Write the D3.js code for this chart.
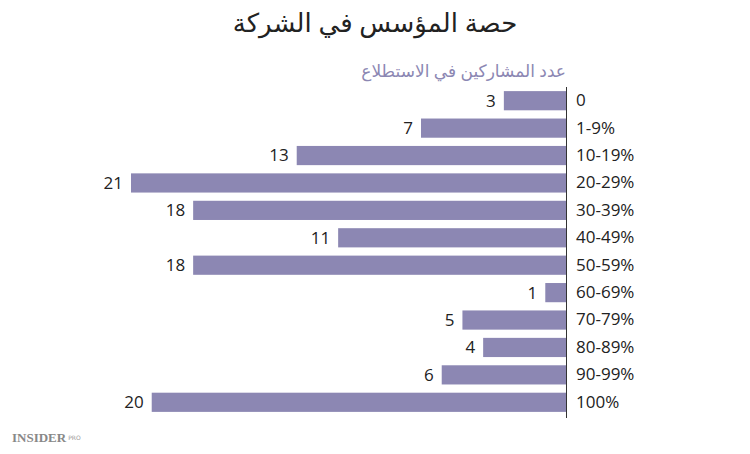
<!DOCTYPE html>
<html><head><meta charset="utf-8">
<script src="https://cdn.jsdelivr.net/npm/d3@7"></script>
<style>body{margin:0;background:#fff}</style>
</head><body>
<script>
const categories = ["0","1-9%","10-19%","20-29%","30-39%","40-49%","50-59%","60-69%","70-79%","80-89%","90-99%","100%"];
const values = [3,7,13,21,18,11,18,1,5,4,6,20];
const title = "حصة المؤسس في الشركة";
const subtitle = "عدد المشاركين في الاستطلاع";

const W = 750, H = 454;
const svg = d3.select("body").append("svg").attr("width", W).attr("height", H);
const font = "'Open Sans','Noto Sans',sans-serif";

const x0 = 566;
const x = d3.scaleLinear().domain([0, 21]).range([0, 435]);
const y = d3.scaleBand().domain(categories).range([87, 416]).paddingInner(0.3).paddingOuter(0.15);

svg.append("text").attr("x", 375).attr("y", 32).attr("text-anchor", "middle")
  .attr("font-family", "'Noto Sans','DejaVu Sans',sans-serif").attr("font-size", 26).attr("fill", "#222")
  .text(title);
svg.append("text").attr("x", 566).attr("y", 77).attr("text-anchor", "end")
  .attr("font-family", "'Noto Sans','DejaVu Sans',sans-serif").attr("font-size", 17).attr("fill", "#8c87b3")
  .text(subtitle);

const g = svg.selectAll(".bar").data(categories).enter().append("g").attr("class", "bar");
g.append("rect")
  .attr("x", (d, i) => x0 - x(values[i])).attr("y", d => y(d))
  .attr("width", (d, i) => x(values[i])).attr("height", y.bandwidth())
  .attr("fill", "#8c87b3");
g.append("text")
  .attr("x", (d, i) => x0 - x(values[i]) - 8).attr("y", d => y(d) + y.bandwidth() / 2)
  .attr("dy", "0.35em").attr("text-anchor", "end")
  .attr("font-family", font).attr("font-size", 17).attr("fill", "#222")
  .text((d, i) => values[i]);

svg.append("line").attr("x1", x0 + 0.5).attr("x2", x0 + 0.5).attr("y1", 87).attr("y2", 418)
  .attr("stroke", "#333").attr("stroke-width", 1);

const yAxis = d3.axisRight(y).tickSize(0).tickPadding(10);
const ag = svg.append("g").attr("transform", `translate(${x0},0)`).call(yAxis);
ag.select(".domain").remove();
ag.selectAll("text").attr("font-family", font).attr("font-size", 17).attr("fill", "#222");

const logo = svg.append("text").attr("x", 12).attr("y", 442).attr("font-family", "'Liberation Serif',serif")
  .attr("font-size", 13).attr("font-weight", "bold").attr("fill", "#888").text("INSIDER");
const lw = logo.node().getComputedTextLength();
svg.append("text").attr("x", 12 + lw + 2).attr("y", 440).attr("font-family", "'DejaVu Sans',sans-serif")
  .attr("font-size", 6).attr("fill", "#999").text("PRO");
</script>
</body></html>
